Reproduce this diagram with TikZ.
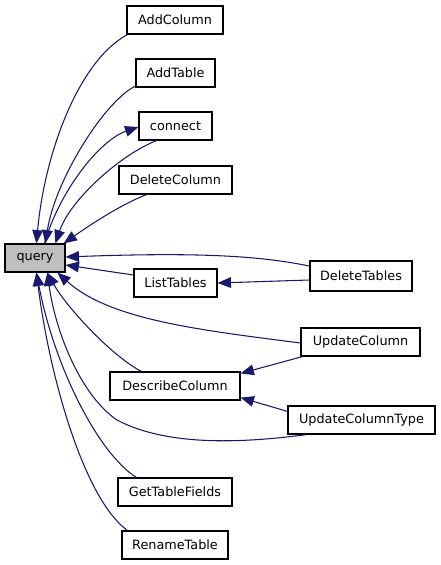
\documentclass[tikz,border=0pt]{standalone}
\usepackage{fontspec}
\setmainfont{DejaVu Sans}
\usetikzlibrary{arrows.meta}
\definecolor{edgecol}{HTML}{191970}
\definecolor{qfill}{HTML}{BFBFBF}
\tikzset{
  fn/.style={draw=black, line width=0.9pt, fill=white, inner sep=0pt, minimum height=28*0.75pt, font=\fontsize{9.6}{11}\selectfont, anchor=center},
  edge/.style={draw=edgecol, line width=0.8pt, -{Triangle[length=10pt,width=8pt]}},
}
\begin{document}
\begin{tikzpicture}[x=0.75pt,y=-0.75pt]
\useasboundingbox (0,0) rectangle (440,565);
% nodes
\node[fn, fill=qfill, minimum width=60*0.75pt] (query) at (35,258) {query};
\node[fn, minimum width=96*0.75pt] (AddColumn) at (175,20) {AddColumn};
\node[fn, minimum width=79*0.75pt] (AddTable) at (175.5,73) {AddTable};
\node[fn, minimum width=73*0.75pt] (connect) at (175.5,126) {connect};
\node[fn, minimum width=113*0.75pt] (DeleteColumn) at (175.5,180) {DeleteColumn};
\node[fn, minimum width=83*0.75pt] (ListTables) at (175.5,283) {ListTables};
\node[fn, minimum width=102*0.75pt, minimum height=30*0.75pt] (DeleteTables) at (361,276) {DeleteTables};
\node[fn, minimum width=119*0.75pt] (UpdateColumn) at (360.5,342) {UpdateColumn};
\node[fn, minimum width=130*0.75pt] (DescribeColumn) at (175,386) {DescribeColumn};
\node[fn, minimum width=147*0.75pt] (UpdateColumnType) at (361.5,420) {UpdateColumnType};
\node[fn, minimum width=114*0.75pt] (GetTableFields) at (175,492) {GetTableFields};
\node[fn, minimum width=106*0.75pt] (RenameTable) at (175,545) {RenameTable};
% edges into query top
\draw[edge] ([xshift=1*0.75pt]AddColumn.south west) .. controls (80,60) and (45,150) .. ([xshift=32*0.75pt]query.north west);
\draw[edge] ([xshift=1*0.75pt,yshift=2*0.75pt]AddTable.south west) .. controls (105,100) and (55,180) .. ([xshift=41*0.75pt]query.north west);
\draw[edge] ([xshift=18*0.75pt]connect.south west) .. controls (120,155) and (70,200) .. ([xshift=51*0.75pt]query.north west);
\draw[edge] ([xshift=40*0.75pt]query.north west) .. controls (60,190) and (100,140) .. ([yshift=-1*0.75pt]connect.west);
\draw[edge] ([xshift=28*0.75pt]DeleteColumn.south west) .. controls (120,205) and (90,225) .. ([xshift=-2*0.75pt]query.north east);
% right side
\draw[edge] ([yshift=10*0.75pt]DeleteTables.west) .. controls (260,256) and (200,252) .. ([yshift=1*0.75pt]query.east);
\draw[edge] ([yshift=8*0.75pt]ListTables.west) -- ([yshift=-7*0.75pt]query.east);
\draw[edge] ([yshift=-4*0.75pt]DeleteTables.west) -- (ListTables.east);
% into query bottom
\draw[edge] ([yshift=-1*0.75pt]UpdateColumn.west) .. controls (200,330) and (110,320) .. ([xshift=53*0.75pt]query.south west);
\draw[edge] ([xshift=2*0.75pt]UpdateColumn.south west) -- ([yshift=-2*0.75pt]DescribeColumn.north east);
\draw[edge] ([yshift=-6*0.75pt]UpdateColumnType.north west) -- ([yshift=3*0.75pt]DescribeColumn.south east);
\draw[edge] ([xshift=19*0.75pt]UpdateColumnType.south west) .. controls (250,442) and (170,448) .. (117,420) .. controls (80,395) and (55,330) .. ([xshift=43*0.75pt]query.south west);
\draw[edge] ([xshift=32*0.75pt]DescribeColumn.north west) .. controls (110,355) and (65,305) .. ([xshift=43*0.75pt]query.south west);
\draw[edge] ([xshift=19*0.75pt]GetTableFields.north west) .. controls (100,455) and (55,370) .. ([xshift=32*0.75pt]query.south west);
\draw[edge] ([xshift=6*0.75pt]RenameTable.north west) .. controls (85,500) and (50,380) .. ([xshift=32*0.75pt]query.south west);
\end{tikzpicture}
\end{document}
